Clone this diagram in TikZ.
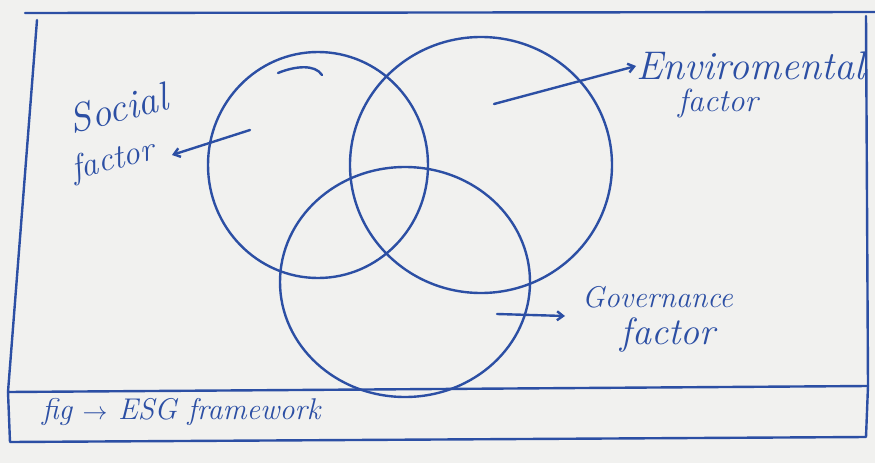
\documentclass[tikz,border=0pt]{standalone}
\usetikzlibrary{shapes.geometric,arrows.meta}
\definecolor{ink}{HTML}{2C4FA4}
\definecolor{paper}{HTML}{F1F1EF}
\begin{document}
\begin{tikzpicture}[x=1pt,y=-1pt,
  pen/.style={draw=ink,line width=2.4pt,line cap=round,line join=round},
  ring/.style={pen,ellipse,inner sep=0pt},
  arr/.style={pen,-{Straight Barb[length=6pt,width=9pt]}},
  hand/.style={text=ink,font=\itshape\fontsize{30}{30}\selectfont,inner sep=0pt}]
\useasboundingbox (0,0) rectangle (875,463);
\fill[paper] (0,0) rectangle (875,463);
% frame
\draw[pen] (25,13) -- (875,12);
\draw[pen] (37,20) -- (8,392) -- (868,386);
\draw[pen] (866,16) -- (868,386);
\draw[pen] (8,392) -- (10,442) -- (866,437) -- (868,386);
% circles
\node[ring,minimum width=220pt,minimum height=226pt] (social) at (318,165) {};
\node[ring,minimum width=262pt,minimum height=256pt] (env) at (481,165) {};
\node[ring,minimum width=250pt,minimum height=230pt] (gov) at (405,282) {};
% small hook at top of social circle
\draw[pen] (278,73) .. controls (295,66) and (315,64) .. (322,75);
% labels
\node[hand,rotate=14,font=\itshape\fontsize{40}{40}\selectfont] (soc1) at (118,108) {Social};
\node[hand,rotate=14,font=\itshape\fontsize{34}{34}\selectfont] (soc2) at (113,161) {factor};
\node[hand,anchor=west,font=\itshape\fontsize{40}{40}\selectfont] (env1) at (636,66) {Enviromental};
\node[hand,font=\itshape\fontsize{32}{32}\selectfont] (env2) at (718,103) {factor};
\node[hand,anchor=west] (gov1) at (582,297) {Governance};
\node[hand,font=\itshape\fontsize{38}{38}\selectfont] (gov2) at (668,335) {factor};
\node[hand,anchor=west] (cap) at (42,412) {fig $\rightarrow$ ESG framework};
% arrows
\coordinate (sa) at (250,130);
\coordinate (send) at (172,155);
\coordinate (ea) at (494,104);
\coordinate (ga) at (497,314);
\coordinate (gend) at (565,316);
\draw[arr] (sa) -- (send);
\draw[arr] (ea) -- (env1.west);
\draw[arr] (ga) -- (gend);
\end{tikzpicture}
\end{document}
